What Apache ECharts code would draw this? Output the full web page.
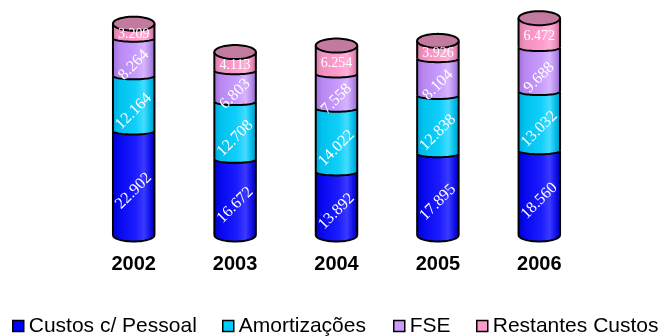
<!DOCTYPE html>
<html>
<head>
<meta charset="utf-8">
<script src="https://cdn.jsdelivr.net/npm/echarts@6/dist/echarts.min.js"></script>
<style>
html,body{margin:0;padding:0;background:#fff;}
#chart{width:665px;height:336px;}
</style>
</head>
<body>
<div id="chart"></div>
<script>
// ---- data ----
const categories = ['2002', '2003', '2004', '2005', '2006'];
const seriesNames = ['Custos c/ Pessoal', 'Amortizações', 'FSE', 'Restantes Custos'];
const custosPessoal = [22902, 16672, 13892, 17895, 18560];
const amortizacoes = [12164, 12708, 14022, 12838, 13032];
const fse = [8264, 6803, 7558, 8104, 9688];
const restantesCustos = [3209, 4113, 6254, 3926, 6472];

// ---- styles ----
const legendColors = ['#0000ff', '#00ccff', '#cc99ff', '#ff99cc'];
const gradStops = [
  ['#0000c8', '#0808f0', '#1c1cff', '#3a3aff', '#1010e8', '#0000b4'],
  ['#00a8d8', '#00c2ee', '#10d0fa', '#44dcff', '#00bce8', '#0096c2'],
  ['#a070d8', '#b888f0', '#c89cff', '#d8b4ff', '#b48ae8', '#9068c0'],
  ['#d87aa8', '#f090c0', '#ff9ccc', '#ffb0d8', '#ec8cbc', '#c06c94']
];
const stopPos = [0, 0.15, 0.55, 0.75, 0.9, 1];
const capColor = '#c27a9e';

const allValues = [custosPessoal, amortizacoes, fse, restantesCustos];

function fmt(n) {
  return String(n).replace(/\B(?=(\d{3})+(?!\d))/g, '.');
}

function arcPts(cx, cy, rx, ry, a0, a1, n) {
  const pts = [];
  for (let i = 0; i <= n; i++) {
    const t = a0 + (a1 - a0) * i / n;
    pts.push([cx + rx * Math.cos(t), cy + ry * Math.sin(t)]);
  }
  return pts;
}

function makeRender(s) {
  return function (params, api) {
    const ci = api.value(0);
    const pB = api.coord([ci, api.value(1)]);
    const pT = api.coord([ci, api.value(2)]);
    const cx = pB[0], yB = pB[1], yT = pT[1];
    const w = 41.5, rx = w / 2, x0 = cx - rx, x1 = cx + rx;
    const ryB = s === 0 ? 6.5 : 3.5;
    const grad = new echarts.graphic.LinearGradient(0, 0, 1, 0,
      stopPos.map((o, i) => ({ offset: o, color: gradStops[s][i] })));
    const children = [];
    const bodyPts = [[x0, yT], [x1, yT]].concat(arcPts(cx, yB, rx, ryB, 0, Math.PI, 30));
    children.push({ type: 'polygon', shape: { points: bodyPts }, style: { fill: grad, stroke: null } });
    children.push({ type: 'line', shape: { x1: x0, y1: yT, x2: x0, y2: yB }, style: { stroke: '#000', lineWidth: 2 } });
    children.push({ type: 'line', shape: { x1: x1, y1: yT, x2: x1, y2: yB }, style: { stroke: '#000', lineWidth: 2 } });
    children.push({ type: 'polyline', shape: { points: arcPts(cx, yB, rx, ryB, 0, Math.PI, 30) }, style: { stroke: '#000', lineWidth: 2, fill: null } });
    if (s === 3) {
      children.push({ type: 'polygon', shape: { points: arcPts(cx, yT, rx, 7, 0, Math.PI * 2, 60) }, style: { fill: capColor, stroke: '#000', lineWidth: 2 } });
    }
    const mid = (yB + yT) / 2;
    children.push({
      type: 'text',
      x: cx,
      y: s === 3 ? mid + 3.5 : mid + 8,
      rotation: s === 3 ? 0 : Math.PI / 4,
      z2: 10,
      style: {
        text: fmt(api.value(3)),
        fill: '#ffffff',
        font: (s === 3 ? '14px' : '16px') + ' "Liberation Serif", "Times New Roman", serif',
        align: 'center',
        verticalAlign: 'middle'
      }
    });
    return { type: 'group', children: children };
  };
}

const series = [];
const cumulative = categories.map(() => 0);
allValues.forEach((vals, s) => {
  const data = vals.map((v, i) => {
    const base = cumulative[i];
    cumulative[i] += v;
    return [i, base, base + v, v];
  });
  series.push({
    name: seriesNames[s],
    type: 'custom',
    renderItem: makeRender(s),
    encode: { x: 0, y: 2 },
    itemStyle: { color: legendColors[s] },
    data: data
  });
});

const legendLefts = [12, 222, 393, 476];
const legends = seriesNames.map((name, s) => ({
  left: legendLefts[s],
  top: 315,
  padding: 0,
  itemWidth: 11,
  itemHeight: 11,
  itemGap: 0,
  selectedMode: false,
  textStyle: { fontFamily: '"Liberation Sans", Arial, sans-serif', fontSize: 21, color: '#000', lineHeight: 22 },
  data: [{ name: name, icon: 'rect', itemStyle: { color: legendColors[s], borderColor: '#000', borderWidth: 1.5 } }]
}));

const chart = echarts.init(document.getElementById('chart'), null, { renderer: 'canvas' });
chart.setOption({
  animation: false,
  backgroundColor: '#fff',
  grid: { left: 83, right: 75, top: 8, bottom: 101 },
  xAxis: {
    type: 'category',
    data: categories,
    axisLine: { show: false },
    axisTick: { show: false },
    axisLabel: {
      margin: 19,
      fontFamily: '"Liberation Sans", Arial, sans-serif',
      fontSize: 20,
      fontWeight: 'bold',
      color: '#000'
    }
  },
  yAxis: { type: 'value', min: 0, max: 50000, show: false },
  legend: legends,
  series: series
});
</script>
</body>
</html>
